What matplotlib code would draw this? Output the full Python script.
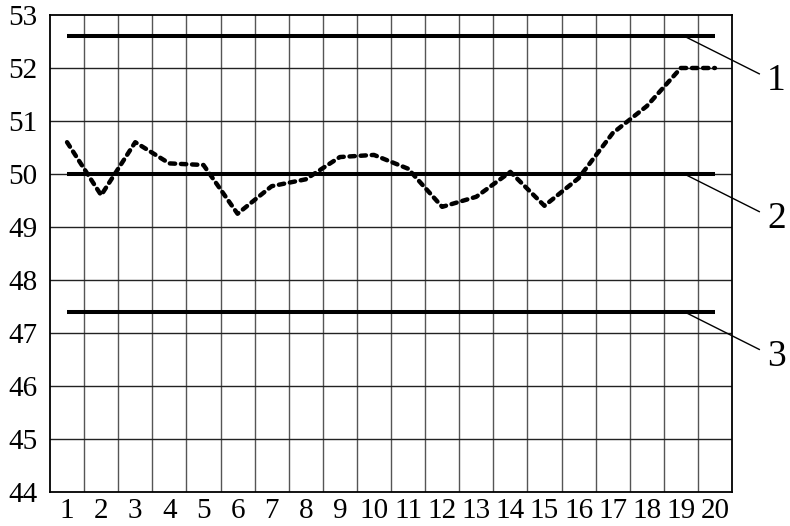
import numpy as np
import matplotlib.pyplot as plt

# номери вибірок і виміряні значення
samples = np.arange(1, 21)
values = [50.6, 49.6, 50.6, 50.2, 50.17, 49.25, 49.77, 49.9, 50.32, 50.36,
          50.1, 49.38, 49.57, 50.04, 49.4, 49.92, 50.77, 51.28, 52.0, 52.0]

# контрольні межі
ucl = 52.6
center = 50.0
lcl = 47.4
limit_labels = ["1", "2", "3"]

plt.rcParams['font.family'] = ['Liberation Serif', 'DejaVu Serif']

fig = plt.figure(figsize=(7.9, 5.26), dpi=100)
ax = fig.add_axes([50 / 790, 34 / 526, 682 / 790, 477 / 526])

ax.set_xlim(0.5, 20.5)
ax.set_ylim(44, 53)

# сітка: вертикальні лінії між номерами, горизонтальні на кожному цілому
for xv in np.arange(1.5, 20.5, 1):
    ax.axvline(xv, color='#555555', lw=1.0, zorder=1)
for yv in range(45, 53):
    ax.axhline(yv, color='#222222', lw=1.0, zorder=1)

for y in (ucl, center, lcl):
    ax.plot([samples[0], samples[-1]], [y, y], color='black', lw=2.9,
            solid_capstyle='butt', zorder=3)

ax.plot(samples, values, color='black', lw=3.2, linestyle=(0, (1.2, 1.3)),
        dash_capstyle='round', zorder=4)

ax.set_xticks(samples)
ax.set_xticklabels([str(s) for s in samples])
ax.set_yticks(range(44, 54))
ax.tick_params(axis='both', length=0, labelsize=21)
ax.tick_params(axis='y', pad=9)
ax.tick_params(axis='x', pad=4)
for sp in ax.spines.values():
    sp.set_linewidth(1.3)
    sp.set_color('black')

# виноски з номерами ліній
for y, lab in zip((ucl, center, lcl), limit_labels):
    ax.plot([19.1, 21.3], [y, y - 0.71], color='black', lw=1.0,
            clip_on=False, zorder=2)
    ax.text(21.8, y - 0.84, lab, fontsize=27, ha='center', va='center',
            clip_on=False)

fig.savefig('out.png', dpi=100)
